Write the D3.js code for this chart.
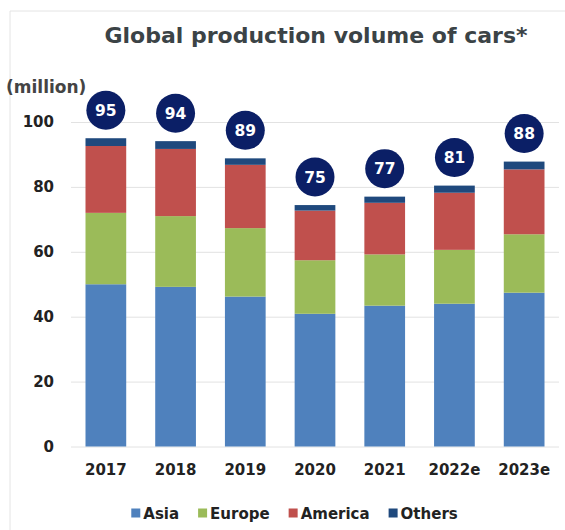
<!DOCTYPE html>
<html>
<head>
<meta charset="utf-8">
<script src="https://cdn.jsdelivr.net/npm/d3@7"></script>
<style>
	body { margin: 0; background: #fff; }
	text { font-family: "DejaVu Sans", Verdana, sans-serif; font-weight: bold; }
</style>
</head>
<body>
<svg id="chart"></svg>
<script>
// Values (million cars)
const years = ['2017', '2018', '2019', '2020', '2021', '2022e', '2023e'];
const asia = [50.0, 49.2, 46.2, 40.9, 43.4, 44.0, 47.4];
const europe = [22.0, 21.8, 21.1, 16.5, 15.8, 16.6, 18.0];
const america = [20.6, 20.7, 19.5, 15.3, 15.9, 17.6, 20.0];
const others = [2.4, 2.4, 2.0, 1.7, 1.9, 2.2, 2.4];
const totalLabels = [95, 94, 89, 75, 77, 81, 88];
const seriesNames = ['Asia', 'Europe', 'America', 'Others'];
const yTicks = [0, 20, 40, 60, 80, 100];

class StackedBarChart {
	constructor(_config) {
		this.config = {
			parentElement: _config.parentElement,
			containerWidth: _config.width,
			containerHeight: _config.height,
			plot: { left: 71, right: 559, top: 122, bottom: 446.5 }
		};
		this.colours = ['#4f81bd', '#9bbb59', '#c0504d', '#1f497d'];
		this.initVis();
	}

	initVis() {
		let vis = this;
		const p = vis.config.plot;

		vis.svg = d3.select(vis.config.parentElement)
			.attr('width', vis.config.containerWidth)
			.attr('height', vis.config.containerHeight);

		// faint frame of the original chart box
		vis.svg.append('path')
			.attr('d', `M10,530V11H565`)
			.attr('fill', 'none')
			.attr('stroke', '#e4e4e4');

		vis.xScale = d3.scaleBand()
			.domain(years)
			.range([p.left, p.right])
			.paddingInner(0.416)
			.paddingOuter(0.208);
		vis.yScale = d3.scaleLinear()
			.domain([0, 100])
			.range([p.bottom, p.top]);

		vis.title = vis.svg.append('text')
			.attr('x', 316)
			.attr('y', 43)
			.attr('text-anchor', 'middle')
			.attr('font-size', 22)
			.attr('fill', '#3b4346')
			.text('Global production volume of cars*');

		vis.svg.append('text')
			.attr('x', 6)
			.attr('y', 93)
			.attr('font-size', 17)
			.attr('fill', '#444')
			.text('(million)');

		vis.updateVis();
	}

	updateVis() {
		let vis = this;
		vis.data = years.map((y, i) => ({
			year: y, Asia: asia[i], Europe: europe[i], America: america[i], Others: others[i], label: totalLabels[i]
		}));
		vis.stacked = d3.stack().keys(seriesNames)(vis.data);
		vis.renderVis();
	}

	renderVis() {
		let vis = this;
		const p = vis.config.plot;

		// y axis with gridlines
		const yAxisG = vis.svg.append('g')
			.attr('transform', `translate(${p.left},0)`)
			.call(d3.axisLeft(vis.yScale).tickValues(yTicks).tickSize(-(p.right - p.left)).tickPadding(17));
		yAxisG.select('.domain').remove();
		yAxisG.selectAll('line').attr('stroke', '#e2e2e2');
		yAxisG.selectAll('text')
			.attr('font-size', 15)
			.attr('fill', '#222')
			.attr('font-family', null);

		// bars
		vis.svg.append('g').selectAll('g')
			.data(vis.stacked)
			.join('g')
			.attr('fill', (d, i) => vis.colours[i])
			.selectAll('rect')
			.data(d => d)
			.join('rect')
			.attr('x', d => vis.xScale(d.data.year))
			.attr('width', vis.xScale.bandwidth())
			.attr('y', d => vis.yScale(d[1]))
			.attr('height', d => vis.yScale(d[0]) - vis.yScale(d[1]));

		// x axis
		const xAxisG = vis.svg.append('g')
			.attr('transform', `translate(0,${p.bottom})`)
			.call(d3.axisBottom(vis.xScale).tickSize(0).tickPadding(18));
		xAxisG.select('.domain').remove();
		xAxisG.selectAll('text')
			.attr('font-size', 15)
			.attr('fill', '#222')
			.attr('font-family', null);

		// total bubbles
		const top = vis.stacked[vis.stacked.length - 1];
		const bubbles = vis.svg.append('g').selectAll('g')
			.data(top)
			.join('g')
			.attr('transform', d => `translate(${vis.xScale(d.data.year) + vis.xScale.bandwidth() / 2},${vis.yScale(d[1]) - 28})`);
		bubbles.append('circle')
			.attr('r', 19.5)
			.attr('fill', '#0b1f66');
		bubbles.append('text')
			.attr('text-anchor', 'middle')
			.attr('dy', '0.36em')
			.attr('font-size', 15.5)
			.attr('fill', '#fff')
			.text(d => d.data.label);

		// legend
		const legend = vis.svg.append('g');
		let x = 0;
		seriesNames.forEach((name, i) => {
			legend.append('rect')
				.attr('x', x).attr('y', 508.5)
				.attr('width', 9).attr('height', 9)
				.attr('fill', vis.colours[i]);
			const t = legend.append('text')
				.attr('x', x + 12).attr('y', 519)
				.attr('font-size', 15)
				.attr('fill', '#222')
				.text(name);
			x += 12 + t.node().getComputedTextLength() + 19;
		});
		legend.attr('transform', `translate(${294.5 - (x - 19) / 2},0)`);
	}
}

new StackedBarChart({ parentElement: '#chart', width: 565, height: 530 });
</script>
</body>
</html>
